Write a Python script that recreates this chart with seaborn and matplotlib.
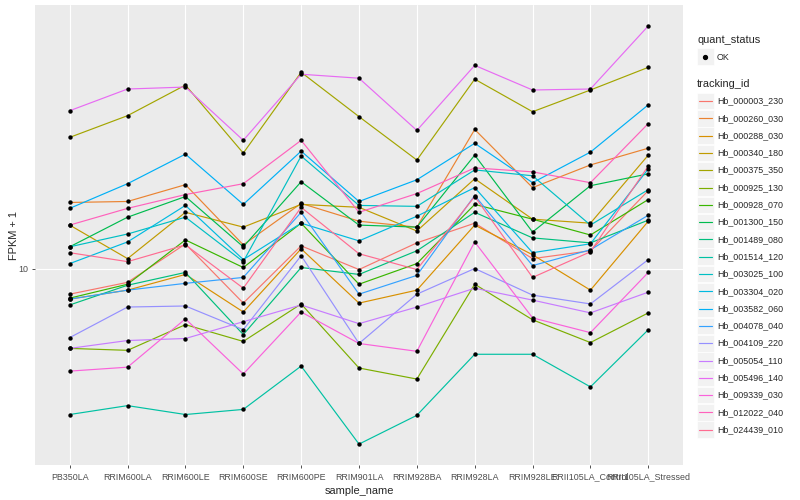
import matplotlib
matplotlib.use('Agg')
import numpy as np
import pandas as pd
import matplotlib.pyplot as plt
import seaborn as sns
from matplotlib.patches import Rectangle
from matplotlib.lines import Line2D
from matplotlib.ticker import NullLocator

samples = ['PB350LA', 'RRIM600LA', 'RRIM600LE', 'RRIM600SE', 'RRIM600PE', 'RRIM901LA',
           'RRIM928BA', 'RRIM928LA', 'RRIM928LE', 'RRII105LA_Control', 'RRII105LA_Stressed']

tracking_ids = ['Hb_000003_230', 'Hb_000260_030', 'Hb_000288_030', 'Hb_000340_180', 'Hb_000375_350',
                'Hb_000925_130', 'Hb_000928_070', 'Hb_001300_150', 'Hb_001489_080', 'Hb_001514_120',
                'Hb_003025_100', 'Hb_003304_020', 'Hb_003582_060', 'Hb_004078_040', 'Hb_004109_220',
                'Hb_005054_110', 'Hb_005496_140', 'Hb_009339_030', 'Hb_012022_040', 'Hb_024439_010']

# ggplot hue_pal()(20)
colours = ['#F8766D', '#EA8331', '#D89000', '#C09B00', '#A3A500', '#7CAE00', '#39B600', '#00BB4E',
           '#00BF7D', '#00C1A3', '#00BFC4', '#00BAE0', '#00B0F6', '#35A2FF', '#9590FF', '#C77CFF',
           '#E76BF3', '#FA62DB', '#FF62BC', '#FF6C91']

# FPKM + 1 per sample
hb_000003_230 = [8.19, 8.98, 12.11, 7.64, 11.93, 9.92, 12.21, 14.23, 10.80, 11.48, 18.34]
hb_000260_030 = [16.72, 16.85, 19.20, 12.02, 16.60, 14.45, 13.80, 29.51, 18.77, 22.39, 25.51]
hb_000288_030 = [7.88, 8.45, 9.55, 7.13, 11.66, 7.64, 8.45, 14.02, 11.13, 8.45, 14.45]
hb_000340_180 = [14.02, 10.80, 15.49, 13.80, 16.47, 16.10, 13.39, 20.11, 14.68, 14.23, 24.17]
hb_000375_350 = [27.75, 32.86, 41.69, 24.55, 46.06, 32.61, 23.26, 43.65, 33.88, 40.12, 47.86]
hb_000925_130 = [5.37, 5.29, 6.46, 5.67, 7.59, 4.61, 4.23, 8.85, 6.71, 5.62, 7.08]
hb_000928_070 = [7.94, 8.85, 12.49, 10.08, 14.23, 8.85, 10.39, 16.47, 14.68, 12.98, 17.11]
hb_001300_150 = [11.84, 14.91, 17.51, 11.84, 19.65, 14.02, 13.80, 24.17, 13.28, 19.05, 20.89]
hb_001489_080 = [7.53, 8.78, 9.70, 5.98, 10.08, 9.55, 11.48, 15.49, 12.69, 12.21, 14.57]
hb_001514_120 = [3.21, 3.44, 3.21, 3.34, 4.68, 2.55, 3.19, 5.13, 5.13, 3.98, 6.21]
hb_003025_100 = [11.84, 13.08, 14.91, 10.55, 23.99, 16.34, 16.22, 21.54, 20.58, 14.02, 18.48]
hb_003304_020 = [10.39, 12.30, 16.34, 10.72, 14.23, 12.40, 15.02, 18.77, 11.31, 12.12, 21.71]
hb_003582_060 = [15.97, 19.35, 24.36, 16.47, 24.93, 16.85, 19.95, 26.50, 19.50, 24.74, 35.75]
hb_004078_040 = [7.88, 8.45, 8.91, 9.33, 15.49, 8.19, 9.48, 17.65, 10.23, 11.57, 15.14]
hb_004109_220 = [5.84, 7.41, 7.47, 6.21, 11.05, 5.58, 8.19, 10.00, 8.13, 7.59, 10.72]
hb_005054_110 = [5.37, 5.71, 5.80, 6.61, 7.53, 6.51, 7.41, 8.58, 7.82, 7.08, 8.32]
hb_005496_140 = [34.15, 40.43, 41.05, 27.12, 45.36, 43.98, 29.29, 48.60, 40.12, 40.43, 66.07]
hb_009339_030 = [4.50, 4.64, 6.76, 4.40, 7.13, 5.58, 5.25, 12.30, 6.81, 6.07, 9.70]
hb_012022_040 = [14.02, 15.97, 17.78, 19.35, 27.12, 15.49, 17.92, 21.88, 21.22, 19.50, 30.90]
hb_024439_010 = [11.31, 10.55, 12.02, 8.58, 16.10, 11.22, 9.92, 17.51, 9.33, 11.39, 22.22]

series = [hb_000003_230, hb_000260_030, hb_000288_030, hb_000340_180, hb_000375_350,
          hb_000925_130, hb_000928_070, hb_001300_150, hb_001489_080, hb_001514_120,
          hb_003025_100, hb_003304_020, hb_003582_060, hb_004078_040, hb_004109_220,
          hb_005054_110, hb_005496_140, hb_009339_030, hb_012022_040, hb_024439_010]

rows = []
for tid, vals in zip(tracking_ids, series):
    for s, v in zip(samples, vals):
        rows.append({'tracking_id': tid, 'sample_name': s, 'fpkm': v, 'quant_status': 'OK'})
df = pd.DataFrame(rows)

sns.set_style('darkgrid', {'axes.facecolor': '#EBEBEB', 'grid.color': 'white'})
plt.rcParams['font.family'] = ['Liberation Sans', 'DejaVu Sans']

W, H = 800, 500
fig = plt.figure(figsize=(8, 5), dpi=100)
ax = fig.add_axes([35 / W, 35 / H, 648 / W, 460 / H])

sns.lineplot(data=df, x='sample_name', y='fpkm', hue='tracking_id', hue_order=tracking_ids,
             palette=colours, sort=False, estimator=None, linewidth=0.85, legend=False, ax=ax)
sns.scatterplot(data=df, x='sample_name', y='fpkm', color='black', s=10, linewidth=0,
                legend=False, ax=ax, zorder=5)

ax.set_yscale('log')
lo, hi = np.log10(df['fpkm'].min()), np.log10(df['fpkm'].max())
pad = 0.05 * (hi - lo)
ax.set_ylim(10 ** (lo - pad), 10 ** (hi + pad))
ax.set_xlim(-0.6, len(samples) - 0.4)
ax.set_yticks([10])
ax.set_yticklabels(['10'])
ax.yaxis.set_minor_locator(NullLocator())
ax.grid(True, color='white', linewidth=0.8)
for sp in ax.spines.values():
    sp.set_visible(False)
ax.tick_params(axis='both', which='major', length=2, width=0.6, color='#333333',
               labelcolor='#4D4D4D', labelsize=6.4, left=True, bottom=True)
ax.tick_params(axis='x', pad=3.5)
ax.tick_params(axis='y', pad=2.5)
ax.set_xlabel('sample_name', fontsize=7.9, labelpad=3)
ax.set_ylabel('FPKM + 1', fontsize=7.9, labelpad=0)

# legends, ggplot style
def fx(x):
    return x / W

def fy(y):
    return 1 - y / H

fig.text(fx(697), fy(40), 'quant_status', fontsize=7.9, va='center', ha='left')
fig.add_artist(Rectangle((fx(697), fy(65)), 16.5 / W, 16.5 / H, transform=fig.transFigure,
                         facecolor='#F2F2F2', edgecolor='white', linewidth=0.5))
fig.add_artist(Line2D([fx(705.2)], [fy(56.8)], marker='o', markersize=2.8, color='black',
                      linestyle='none', transform=fig.transFigure))
fig.text(fx(717), fy(57), 'OK', fontsize=6.4, va='center', ha='left')

fig.text(fx(697), fy(84), 'tracking_id', fontsize=7.9, va='center', ha='left')
step = 17.3
for i, (tid, col) in enumerate(zip(tracking_ids, colours)):
    yc = 101 + i * step
    fig.add_artist(Rectangle((fx(697), fy(yc + 8.3)), 16.5 / W, 16.6 / H, transform=fig.transFigure,
                             facecolor='#F2F2F2', edgecolor='white', linewidth=0.5))
    fig.add_artist(Line2D([fx(699), fx(712)], [fy(yc), fy(yc)], color=col, linewidth=0.85,
                          transform=fig.transFigure))
    fig.text(fx(717), fy(yc), tid, fontsize=6.4, va='center', ha='left')

fig.savefig('out.png', dpi=100)
